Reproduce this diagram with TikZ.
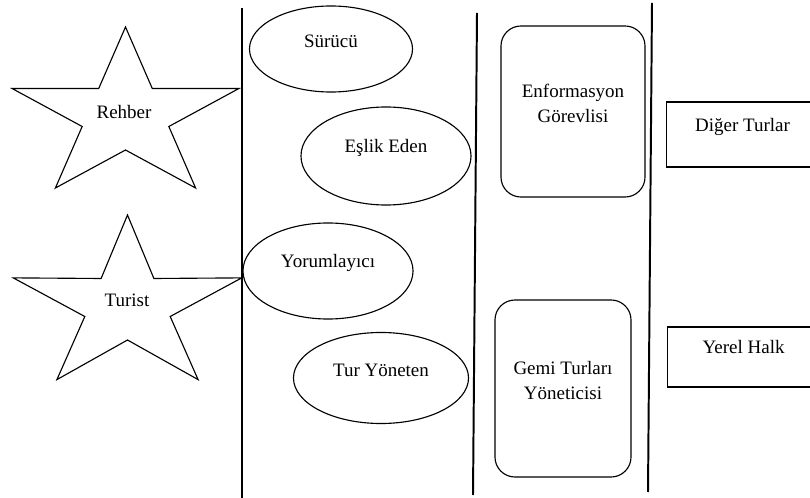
\documentclass[tikz,border=0pt]{standalone}
\usepackage{fontspec}
\setmainfont{Liberation Serif}
\newfontfamily\roleserif{Liberation Serif}
\usetikzlibrary{shapes.geometric,positioning}

\begin{document}
\begin{tikzpicture}[
  x=0.025cm, y=-0.025cm,
  every node/.style={font=\roleserif\fontsize{13.5}{17.8}\selectfont, align=center, inner sep=0pt},
  role/.style={draw, ellipse, line width=0.8pt},
  desk/.style={draw, rectangle, rounded corners=0.5cm, line width=0.8pt},
  group/.style={draw, rectangle, line width=0.8pt},
  starline/.style={draw, line width=0.8pt, line join=miter},
  divider/.style={draw, line width=1.4pt},
  inlabel/.style={yshift=2mm}
]
  \useasboundingbox (0,0) rectangle (810,498);
  \clip (0,0) rectangle (810,498);

  % stars
  \begin{scope}[shift={(125.5,116)}, xscale=1.34]
    \draw[starline] (-90:89) \foreach \k in {1,...,9} { -- ({-90+36*\k}:{mod(\k,2)==1 ? 34 : 89}) } -- cycle;
  \end{scope}
  \begin{scope}[shift={(127.5,306)}, xscale=1.32]
    \draw[starline] (-90:91) \foreach \k in {1,...,9} { -- ({-90+36*\k}:{mod(\k,2)==1 ? 34 : 91}) } -- cycle;
  \end{scope}
  \node (rehber) at (124,112) {Rehber};
  \node (turist) at (127,300) {Turist};

  % column dividers
  \draw[divider] (242,8) -- (242,500);
  \draw[divider] (477,13) -- (473,495);
  \draw[divider] (652,3) -- (648,492);

  % guide roles
  \node[role, minimum width=4.075cm, minimum height=2.15cm] (surucu) at (331,49) {};
  \node[role, minimum width=4.25cm, minimum height=2.45cm] (eslik) at (386,156) {};
  \node[role, minimum width=4.25cm, minimum height=2.4cm] (yorum) at (328,271) {};
  \node[role, minimum width=4.375cm, minimum height=2.275cm] (turyon) at (381,378) {};
  \node[inlabel] (surucut) at (surucu.center) {Sürücü};
  \node[inlabel] (eslikt) at (eslik.center) {Eşlik Eden};
  \node[inlabel] (yorumt) at (yorum.center) {Yorumlayıcı};
  \node[inlabel] (turyont) at (turyon.center) {Tur Yöneten};

  % officers
  \node[desk, minimum width=3.6cm, minimum height=4.275cm] (enfo) at (573,111.5) {};
  \node[desk, minimum width=3.4cm, minimum height=4.425cm] (gemi) at (563,388.5) {};
  \node[inlabel] (enfot) at (enfo.center) {Enformasyon\\Görevlisi};
  \node[inlabel] (gemit) at (gemi.center) {Gemi Turları\\Yöneticisi};

  % others
  \node[group, minimum width=3.8cm, minimum height=1.625cm, anchor=west] (diger) at (666,134.5) {};
  \node[group, minimum width=3.8cm, minimum height=1.5cm, anchor=west] (yerel) at (667,357) {};
  \node[inlabel] (digert) at (diger.center) {Diğer Turlar};
  \node[inlabel] (yerelt) at ([yshift=0.05cm]yerel.center) {Yerel Halk};
\end{tikzpicture}
\end{document}
